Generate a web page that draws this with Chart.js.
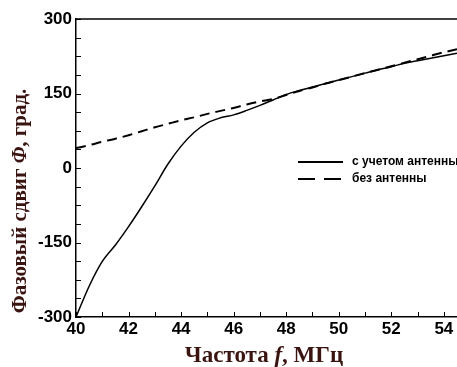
<!DOCTYPE html>
<html>
<head>
<meta charset="utf-8">
<script src="https://cdn.jsdelivr.net/npm/chart.js@4"></script>
<style>
  html, body { margin: 0; padding: 0; background: #fff; }
  #wrap { width: 457px; height: 367px; }
</style>
</head>
<body>
<div id="wrap"><canvas id="phaseChart" width="457" height="367"></canvas></div>
<script>
// frequency, MHz
const freq = [40, 40.5, 41, 41.5, 42, 42.5, 43, 43.5, 44, 44.5, 45, 45.5, 46, 46.5, 47,
  47.5, 48, 48.5, 49, 49.5, 50, 50.5, 51, 51.5, 52, 52.5, 53, 53.5, 54, 54.5];
// phase shift, deg — with antenna
const withAntenna = [-300, -238, -188, -155, -118, -78, -36, 8, 44, 72, 91, 101, 107, 116, 126,
  137, 148, 156, 163, 170, 177, 184, 191, 198, 204, 211, 216, 221, 226, 231];
// phase shift, deg — without antenna
const noAntenna = [40, 46, 53, 59, 66, 74, 82, 89, 96, 102, 109, 115, 121, 128, 134,
  139, 147, 155, 162, 170, 177, 184, 191, 198, 205, 212, 219, 226, 233, 239];

const xTickValues = [40, 42, 44, 46, 48, 50, 52, 54];
const yTickValues = [-300, -150, 0, 150, 300];

const seriesNames = ["с учетом антенны", "без антенны"];
const xTitle = "Частота ";
const xTitleItalic = "f";
const xTitleEnd = ", МГц";
const yTitle = "Фазовый сдвиг ";
const yTitleItalic = "Φ";
const yTitleEnd = ", град.";

const titleColor = "#3a1410";

const ctx = document.getElementById("phaseChart").getContext("2d");

function drawParts(c, parts, startX, y) {
  let x = startX;
  parts.forEach(p => {
    c.font = p.font;
    c.fillText(p.text, x, y);
    x += c.measureText(p.text).width;
  });
}
function partsWidth(c, parts) {
  return parts.reduce((w, p) => { c.font = p.font; return w + c.measureText(p.text).width; }, 0);
}

// inner ticks, top frame, titles and legend
const decor = {
  id: "decor",
  afterDraw(chart) {
    const c = chart.ctx;
    const area = chart.chartArea;
    const xs = chart.scales.x;
    const ys = chart.scales.y;
    c.save();
    c.strokeStyle = "#000";
    c.lineWidth = 1.5;
    c.beginPath();
    c.moveTo(area.left, area.top);
    c.lineTo(area.right, area.top);
    c.stroke();

    c.lineWidth = 1;
    c.beginPath();
    for (let v = 40; v <= 54.5; v += 1) {
      const px = Math.round(xs.getPixelForValue(v)) + 0.5;
      c.moveTo(px, area.bottom);
      c.lineTo(px, area.bottom - 5);
    }
    for (let v = -300; v <= 300; v += 37.5) {
      const py = Math.round(ys.getPixelForValue(v)) + 0.5;
      c.moveTo(area.left, py);
      c.lineTo(area.left + 5, py);
    }
    c.stroke();

    // legend
    c.lineWidth = 2;
    c.beginPath();
    c.moveTo(298, 162);
    c.lineTo(343, 162);
    c.stroke();
    c.setLineDash([17, 9]);
    c.beginPath();
    c.moveTo(298, 179);
    c.lineTo(343, 179);
    c.stroke();
    c.setLineDash([]);
    c.fillStyle = "#000";
    c.font = "bold 12px 'Liberation Sans', Arial, sans-serif";
    c.textBaseline = "middle";
    c.textAlign = "left";
    c.fillText(seriesNames[0], 352, 162);
    c.fillText(seriesNames[1], 352, 179);

    // x title
    c.fillStyle = titleColor;
    c.textBaseline = "alphabetic";
    const serif = "'Liberation Serif', 'Times New Roman', serif";
    const xp = [
      { text: xTitle, font: "bold 23px " + serif },
      { text: xTitleItalic, font: "italic bold 23px " + serif },
      { text: xTitleEnd, font: "bold 23px " + serif }
    ];
    drawParts(c, xp, 264 - partsWidth(c, xp) / 2, 362);

    // y title
    c.translate(26, 201);
    c.rotate(-Math.PI / 2);
    const yp = [
      { text: yTitle, font: "bold 21px " + serif },
      { text: yTitleItalic, font: "italic bold 21px " + serif },
      { text: yTitleEnd, font: "bold 21px " + serif }
    ];
    drawParts(c, yp, -partsWidth(c, yp) / 2, 0);
    c.restore();
  }
};

const tickFont = { family: "'Liberation Sans', Arial, sans-serif", size: 17, weight: "bold" };

new Chart(ctx, {
  type: "line",
  data: {
    datasets: [
      {
        label: seriesNames[0],
        data: freq.map((f, i) => ({ x: f, y: withAntenna[i] })),
        borderColor: "#000",
        borderWidth: 1.5,
        pointRadius: 0,
        cubicInterpolationMode: "monotone",
        fill: false
      },
      {
        label: seriesNames[1],
        data: freq.map((f, i) => ({ x: f, y: noAntenna[i] })),
        borderColor: "#000",
        borderWidth: 2,
        borderDash: [10, 6],
        pointRadius: 0,
        cubicInterpolationMode: "monotone",
        fill: false
      }
    ]
  },
  options: {
    responsive: false,
    animation: false,
    layout: { padding: { top: 19, right: 0, left: 0, bottom: 0 } },
    scales: {
      x: {
        type: "linear",
        min: 40,
        max: 54.5,
        grid: { display: false, drawTicks: false },
        border: { display: true, color: "#000", width: 1.5 },
        ticks: {
          padding: 2,
          color: "#000",
          maxRotation: 0,
          autoSkip: false,
          font: tickFont
        },
        afterBuildTicks: s => { s.ticks = xTickValues.map(v => ({ value: v })); },
        afterFit: s => { s.height = 50; }
      },
      y: {
        min: -300,
        max: 300,
        grid: { display: false, drawTicks: false },
        border: { display: true, color: "#000", width: 1.5 },
        ticks: {
          padding: 4,
          color: "#000",
          font: tickFont
        },
        afterBuildTicks: s => { s.ticks = yTickValues.map(v => ({ value: v })); },
        afterFit: s => { s.width = 76; }
      }
    },
    plugins: {
      legend: { display: false },
      tooltip: { enabled: false }
    }
  },
  plugins: [decor]
});
</script>
</body>
</html>
